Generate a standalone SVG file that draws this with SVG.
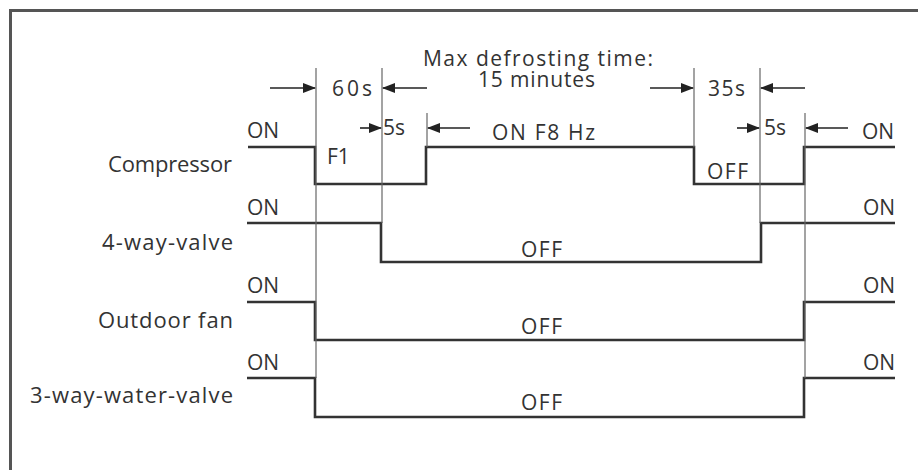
<svg xmlns="http://www.w3.org/2000/svg" width="918" height="470" viewBox="0 0 918 470">
<defs>
<marker id="ah" markerWidth="13" markerHeight="10" refX="12" refY="5" orient="auto" markerUnits="userSpaceOnUse">
<path d="M0,0 L13,5 L0,10 Z" fill="#222"/>
</marker>
<style>
text{font-family:"Open Sans","DejaVu Sans",sans-serif;font-size:21px;fill:#333}
.lbl{text-anchor:end;font-size:22px}
.sig{fill:none;stroke:#333;stroke-width:2.6}
.thin{stroke:#666;stroke-width:1.2;fill:none}
.arr{stroke:#222;stroke-width:1.6;fill:none;marker-end:url(#ah)}
.frame{fill:none;stroke:#555;stroke-width:3}
</style>
</defs>
<rect x="0" y="0" width="918" height="470" fill="#fff"/>
<rect class="frame" x="10.5" y="10.5" width="1000" height="1000"/>

<g id="compressor">
<text class="lbl" x="232" y="172" textLength="124" lengthAdjust="spacing">Compressor</text>
<text x="247" y="138">ON</text>
<path class="sig" d="M248,147 H315 V184 H426 V147 H694 V184 H804 V147 H895"/>
<text x="327" y="164">F1</text>
<text x="492" y="140" textLength="103" lengthAdjust="spacing">ON  F8 Hz</text>
<text x="707" y="179" textLength="41" lengthAdjust="spacing">OFF</text>
<text x="862" y="139">ON</text>
</g>

<g id="four-way-valve">
<text class="lbl" x="233" y="250" textLength="131" lengthAdjust="spacing">4-way-valve</text>
<text x="247" y="215">ON</text>
<path class="sig" d="M247,223 H381 V262 H761 V223 H895"/>
<text x="521" y="257" textLength="41" lengthAdjust="spacing">OFF</text>
<text x="863" y="215">ON</text>
</g>

<g id="outdoor-fan">
<text class="lbl" x="233" y="328" textLength="135" lengthAdjust="spacing">Outdoor fan</text>
<text x="247" y="293">ON</text>
<path class="sig" d="M247,302 H315 V340 H804 V302 H895"/>
<text x="521" y="334" textLength="41" lengthAdjust="spacing">OFF</text>
<text x="863" y="293">ON</text>
</g>

<g id="three-way-water-valve">
<text class="lbl" x="233" y="403" textLength="203" lengthAdjust="spacing">3-way-water-valve</text>
<text x="247" y="370">ON</text>
<path class="sig" d="M247,378 H315 V417 H804 V378 H895"/>
<text x="521" y="410" textLength="41" lengthAdjust="spacing">OFF</text>
<text x="863" y="370">ON</text>
</g>

<g id="timing-labels">
<text x="423" y="66" textLength="230" lengthAdjust="spacing">Max defrosting time:</text>
<text x="478" y="87" textLength="117" lengthAdjust="spacing">15 minutes</text>
<text x="332" y="96" textLength="40" lengthAdjust="spacing">60s</text>
<text x="708" y="96" textLength="37" lengthAdjust="spacing">35s</text>
<text x="383" y="135">5s</text>
<text x="764" y="135">5s</text>
</g>

<g id="connectors">
<line class="thin" x1="316" y1="68" x2="316" y2="378"/>
<line class="thin" x1="382" y1="68" x2="382" y2="223"/>
<line class="thin" x1="427" y1="113" x2="427" y2="147"/>
<line class="thin" x1="694" y1="68" x2="694" y2="147"/>
<line class="thin" x1="760" y1="68" x2="760" y2="223"/>
<line class="thin" x1="805" y1="113" x2="805" y2="378"/>
<line class="arr" x1="270" y1="88" x2="315" y2="88"/>
<line class="arr" x1="427" y1="88" x2="383" y2="88"/>
<line class="arr" x1="650" y1="88" x2="693" y2="88"/>
<line class="arr" x1="805" y1="88" x2="761" y2="88"/>
<line class="arr" x1="360" y1="128" x2="381" y2="128"/>
<line class="arr" x1="470" y1="128" x2="428" y2="128"/>
<line class="arr" x1="737" y1="128" x2="759" y2="128"/>
<line class="arr" x1="848" y1="128" x2="806" y2="128"/>
</g>
</svg>
